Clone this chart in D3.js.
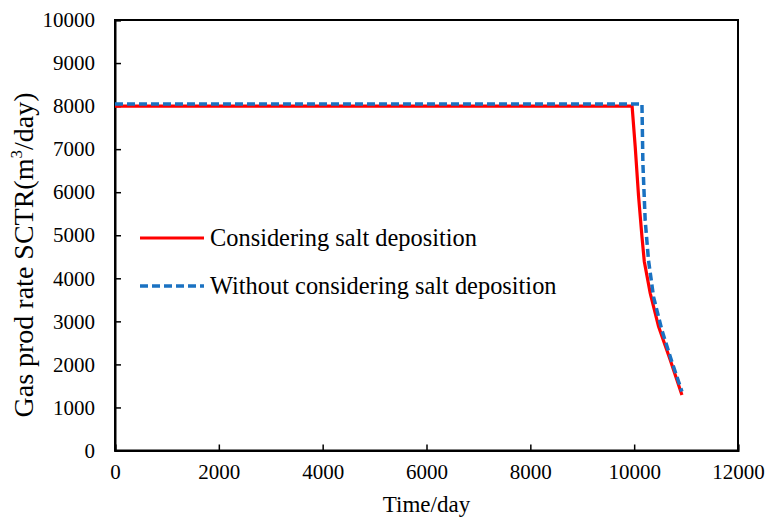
<!DOCTYPE html>
<html><head><meta charset="utf-8">
<script src="https://cdn.jsdelivr.net/npm/d3@7"></script>
<style>body{margin:0;background:#fff;}</style>
</head><body>
<svg id="c" width="767" height="517"></svg>
<script>
const xTicks = [0, 2000, 4000, 6000, 8000, 10000, 12000];
const yTicks = [0, 1000, 2000, 3000, 4000, 5000, 6000, 7000, 8000, 9000, 10000];
const seriesNames = ["Considering salt deposition", "Without considering salt deposition"];
const redT = [0, 9960, 10020, 10085, 10150, 10195, 10310, 10470, 10695, 10920];
const redV = [8000, 8000, 7060, 5900, 4970, 4390, 3650, 2880, 2100, 1290];
const blueT = [0, 10150, 10168, 10212, 10276, 10373, 10533, 10726, 10920];
const blueV = [8050, 8050, 6670, 5350, 4420, 3570, 2800, 2060, 1370];

const FONT = "'Liberation Serif', 'Times New Roman', serif";
const svg = d3.select("#c");
const m = {l:115, r:738, t:20, b:450.5};
const x = d3.scaleLinear().domain([0,12000]).range([m.l, m.r]);
const y = d3.scaleLinear().domain([0,10000]).range([m.b, m.t]);

svg.append("rect").attr("x", m.l).attr("y", m.t).attr("width", m.r-m.l).attr("height", m.b-m.t)
  .attr("fill","none").attr("stroke","#000").attr("stroke-width",2);

const xa = svg.append("g").attr("transform",`translate(0,${m.b})`)
  .call(d3.axisBottom(x).tickValues(xTicks).tickSize(-6).tickPadding(14).tickFormat(d3.format("d")));
const ya = svg.append("g").attr("transform",`translate(${m.l},0)`)
  .call(d3.axisLeft(y).tickValues(yTicks).tickSize(-6).tickPadding(20).tickFormat(d3.format("d")));
[xa, ya].forEach(a=>{
  a.attr("font-family", null).attr("font-size", null);
  a.select(".domain").attr("stroke","#000").attr("stroke-width",2);
  a.selectAll(".tick line").attr("stroke","#000").attr("stroke-width",1.5);
  a.selectAll(".tick text").attr("fill","#000").style("font-family", FONT).style("font-size","21px");
});

const line = d3.line().x(d=>x(d[0])).y(d=>y(d[1]));
const redData = redT.map((t,i)=>[t, redV[i]]);
const blueData = blueT.map((t,i)=>[t, blueV[i]]);
svg.append("path").datum(redData).attr("d", line).attr("fill","none")
  .attr("stroke","#ff0000").attr("stroke-width",3.2);
svg.append("path").datum(blueData).attr("d", line).attr("fill","none")
  .attr("stroke","#1a72c2").attr("stroke-width",3.5).attr("stroke-dasharray","8,4")
  .attr("stroke-linejoin","round");

const lg = svg.append("g").style("font-family", FONT).style("font-size", "24.4px");
lg.append("line").attr("x1",140).attr("x2",204).attr("y1",238).attr("y2",238)
  .attr("stroke","#ff0000").attr("stroke-width",3.2);
lg.append("text").attr("x",210).attr("y",246).text(seriesNames[0]);
lg.append("line").attr("x1",140).attr("x2",204).attr("y1",286).attr("y2",286)
  .attr("stroke","#1a72c2").attr("stroke-width",3.5).attr("stroke-dasharray","8,4");
lg.append("text").attr("x",210).attr("y",294).text(seriesNames[1]);

svg.append("text").attr("x",(m.l+m.r)/2).attr("y",512).attr("text-anchor","middle")
  .style("font-family", FONT).style("font-size","23px").text("Time/day");
const yt = svg.append("text").attr("transform",`translate(33,255) rotate(-90)`)
  .attr("text-anchor","middle").style("font-family", FONT).style("font-size","28px");
yt.append("tspan").text("Gas prod rate SCTR(m");
yt.append("tspan").attr("dy",-11).style("font-size","17px").text("3");
yt.append("tspan").attr("dy",11).text("/day)");
</script>
</body></html>
